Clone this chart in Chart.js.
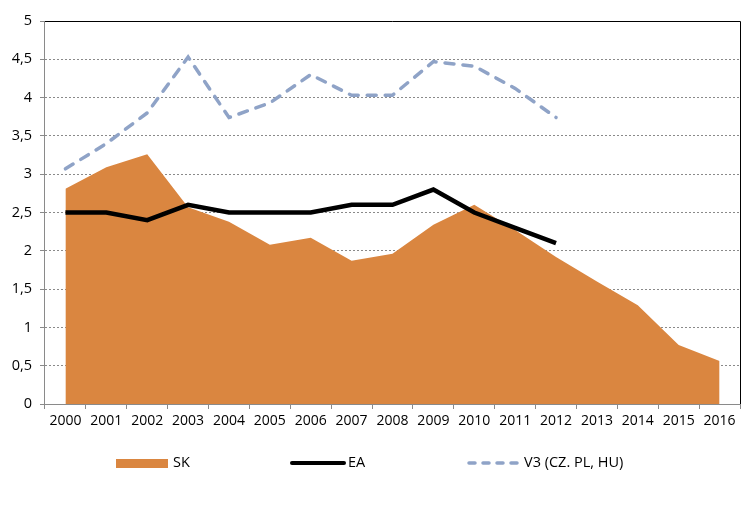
<!DOCTYPE html>
<html>
<head>
<meta charset="utf-8">
<script src="https://cdn.jsdelivr.net/npm/chart.js@4/dist/chart.umd.min.js"></script>
<style>
html,body{margin:0;padding:0;background:#fff;}
#wrap{width:750px;height:512px;position:relative;}
</style>
</head>
<body>
<div id="wrap"><canvas id="c" width="750" height="512"></canvas></div>
<script>
const years = ["2000","2001","2002","2003","2004","2005","2006","2007","2008","2009","2010","2011","2012","2013","2014","2015","2016"];
const skValues = [2.81, 3.09, 3.26, 2.57, 2.38, 2.08, 2.17, 1.87, 1.96, 2.34, 2.6, 2.27, 1.92, 1.6, 1.29, 0.77, 0.56];
const eaValues = [2.5, 2.5, 2.4, 2.6, 2.5, 2.5, 2.5, 2.6, 2.6, 2.8, 2.5, 2.3, 2.1, null, null, null, null];
const v3Values = [3.07, 3.4, 3.8, 4.53, 3.74, 3.93, 4.3, 4.03, 4.03, 4.47, 4.41, 4.12, 3.74, null, null, null, null];
const seriesLabels = ["SK", "EA", "V3 (CZ. PL, HU)"];

const FONT = "'Open Sans', 'Noto Sans', sans-serif";
const ORANGE = "#DA8640";
const BLUE = "#8FA3C7";
const AXIS = "#8a8a8a";

const framePlugin = {
  id: 'frame',
  afterDatasetsDraw(chart) {
    const ctx = chart.ctx, a = chart.chartArea;
    ctx.save();
    ctx.lineWidth = 1;
    ctx.strokeStyle = AXIS;
    ctx.beginPath();
    ctx.moveTo(a.left - 0.5, a.top);
    ctx.lineTo(a.left - 0.5, a.bottom + 1);
    ctx.stroke();
    ctx.strokeStyle = '#000';
    ctx.beginPath();
    ctx.moveTo(a.left, a.top + 0.5);
    ctx.lineTo(a.right + 0.5, a.top + 0.5);
    ctx.lineTo(a.right + 0.5, a.bottom);
    ctx.stroke();
    ctx.restore();
  },
  afterDraw(chart) {
    const ctx = chart.ctx;
    ctx.save();
    const y = 463;
    ctx.font = "14.5px " + FONT;
    ctx.textBaseline = 'middle';
    ctx.fillStyle = ORANGE;
    ctx.fillRect(116, 459, 52, 9);
    ctx.fillStyle = '#000';
    ctx.fillText(seriesLabels[0], 173, y);
    ctx.strokeStyle = '#000';
    ctx.lineWidth = 4;
    ctx.lineCap = 'round';
    ctx.beginPath();
    ctx.moveTo(292, y); ctx.lineTo(344, y); ctx.stroke();
    ctx.fillText(seriesLabels[1], 348, y);
    ctx.strokeStyle = BLUE;
    ctx.lineWidth = 3.5;
    ctx.setLineDash([6, 8]);
    ctx.beginPath();
    ctx.moveTo(469, y); ctx.lineTo(521, y); ctx.stroke();
    ctx.setLineDash([]);
    ctx.fillText(seriesLabels[2], 524, y);
    ctx.restore();
  }
};

new Chart(document.getElementById('c'), {
  type: 'line',
  data: {
    labels: years,
    datasets: [
      {
        label: seriesLabels[0],
        data: skValues,
        fill: 'origin',
        backgroundColor: ORANGE,
        borderWidth: 0,
        borderColor: ORANGE,
        pointRadius: 0,
        tension: 0,
        order: 3
      },
      {
        label: seriesLabels[1],
        data: eaValues,
        borderColor: '#000',
        borderWidth: 4.5,
        pointRadius: 0,
        tension: 0,
        fill: false,
        order: 2
      },
      {
        label: seriesLabels[2],
        data: v3Values,
        borderColor: BLUE,
        borderWidth: 3.5,
        borderDash: [9, 9],
        borderCapStyle: 'round',
        pointRadius: 0,
        tension: 0,
        fill: false,
        order: 1
      }
    ]
  },
  options: {
    responsive: false,
    animation: false,
    devicePixelRatio: 1,
    layout: { padding: { left: 0, right: 10, top: 21, bottom: 78 } },
    plugins: { legend: { display: false }, tooltip: { enabled: false } },
    scales: {
      x: {
        offset: true,
        grid: {
          offset: true,
          drawOnChartArea: false,
          drawTicks: true,
          tickLength: 5,
          color: AXIS
        },
        border: { color: AXIS, width: 1 },
        ticks: {
          font: { family: FONT, size: 14 },
          color: '#000',
          padding: 4,
          maxRotation: 0,
          autoSkip: false
        },
        afterFit(scale) { scale.height = 30; }
      },
      y: {
        min: 0,
        max: 5,
        grid: {
          color: AXIS,
          lineWidth: 1,
          tickLength: 5,
          drawTicks: true,
          tickColor: AXIS
        },
        border: { display: false, dash: [2, 2] },
        ticks: {
          stepSize: 0.5,
          font: { family: FONT, size: 14.5 },
          color: '#000',
          padding: 8,
          callback: (v) => String(v).replace('.', ',')
        },
        afterFit(scale) { scale.width = 45; }
      }
    }
  },
  plugins: [framePlugin]
});
</script>
</body>
</html>
